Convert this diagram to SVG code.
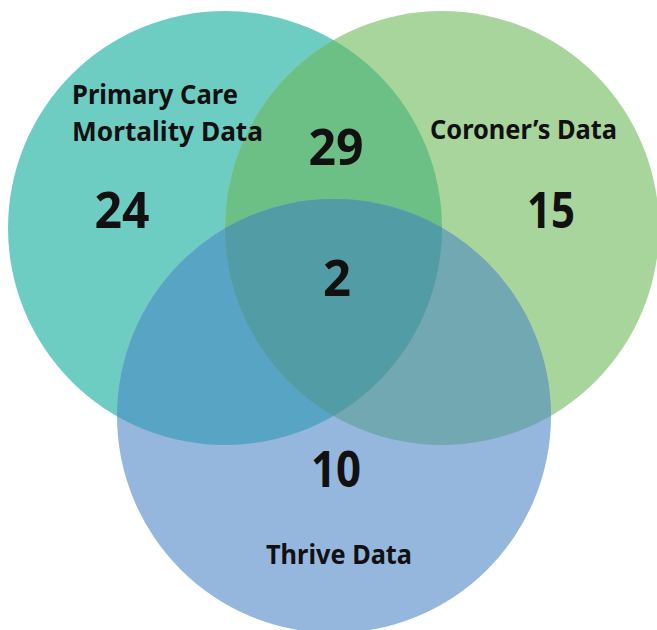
<svg xmlns="http://www.w3.org/2000/svg" width="657" height="630" viewBox="0 0 657 630">
<style>
.lbl{font-family:"Noto Sans","Open Sans","DejaVu Sans",sans-serif;font-weight:700;font-size:26px;fill:#111}
.num{font-family:"Open Sans","Noto Sans",sans-serif;font-weight:700;font-size:50px;fill:#111;text-anchor:middle}
</style>
<defs>
<clipPath id="cT"><circle cx="225" cy="228" r="217"/></clipPath>
<clipPath id="cG"><circle cx="442" cy="228" r="217"/></clipPath>
</defs>
<rect width="657" height="630" fill="#fff"/>
<g id="primary-care">
<circle cx="225" cy="228" r="217" fill="#6ecdc3"/>
</g>
<g id="coroner">
<circle cx="442" cy="228" r="217" fill="#a8d59c"/>
</g>
<g id="thrive">
<circle cx="334" cy="416" r="217" fill="#95b7dd"/>
</g>
<g id="overlaps">
<circle cx="442" cy="228" r="217" fill="#6cc085" clip-path="url(#cT)"/>
<circle cx="334" cy="416" r="217" fill="#58a4c4" clip-path="url(#cT)"/>
<circle cx="334" cy="416" r="217" fill="#72a8b1" clip-path="url(#cG)"/>
<g clip-path="url(#cT)"><circle cx="334" cy="416" r="217" fill="#529ca5" clip-path="url(#cG)"/></g>
</g>
<g id="labels">
<text class="lbl" x="72" y="104" textLength="166" lengthAdjust="spacingAndGlyphs">Primary Care</text>
<text class="lbl" x="72" y="141" textLength="191" lengthAdjust="spacingAndGlyphs">Mortality Data</text>
<text class="lbl" x="430" y="139" textLength="187" lengthAdjust="spacingAndGlyphs">Coroner’s Data</text>
<text class="lbl" x="266" y="564" textLength="146" lengthAdjust="spacingAndGlyphs">Thrive Data</text>
<text class="num" x="122" y="228" textLength="55" lengthAdjust="spacingAndGlyphs">24</text>
<text class="num" x="336" y="165" textLength="55" lengthAdjust="spacingAndGlyphs">29</text>
<text class="num" x="551" y="228" textLength="48" lengthAdjust="spacingAndGlyphs">15</text>
<text class="num" x="337" y="296" textLength="28" lengthAdjust="spacingAndGlyphs">2</text>
<text class="num" x="336" y="487" textLength="50" lengthAdjust="spacingAndGlyphs">10</text>
</g>
</svg>
